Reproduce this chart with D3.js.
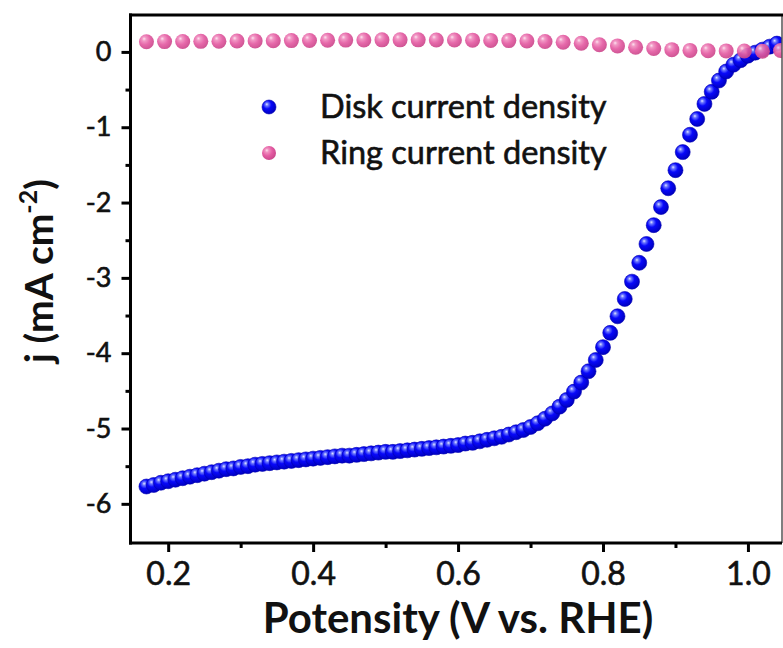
<!DOCTYPE html>
<html>
<head>
<meta charset="utf-8">
<script src="https://cdn.jsdelivr.net/npm/d3@7/dist/d3.min.js"></script>
<style>
  html, body { margin: 0; padding: 0; background: #ffffff; }
  svg { display: block; }
  text { font-family: "Lato", "Open Sans", sans-serif; fill: #111; }
  .heavy { stroke: #111; stroke-width: 0.6px; paint-order: stroke; }
</style>
</head>
<body>
<svg id="chart" width="783" height="648"></svg>
<script>
// RRDE polarisation: disk current density (blue) and ring current density (pink)
const diskPotential = [
  0.17, 0.18, 0.19, 0.20, 0.21, 0.22, 0.23, 0.24, 0.25, 0.26,
  0.27, 0.28, 0.29, 0.30, 0.31, 0.32, 0.33, 0.34, 0.35, 0.36,
  0.37, 0.38, 0.39, 0.40, 0.41, 0.42, 0.43, 0.44, 0.45, 0.46,
  0.47, 0.48, 0.49, 0.50, 0.51, 0.52, 0.53, 0.54, 0.55, 0.56,
  0.57, 0.58, 0.59, 0.60, 0.61, 0.62, 0.63, 0.64, 0.65, 0.66,
  0.67, 0.68, 0.69, 0.70, 0.71, 0.72, 0.73, 0.74, 0.75, 0.76,
  0.77, 0.78, 0.79, 0.80, 0.81, 0.82, 0.83, 0.84, 0.85, 0.86,
  0.87, 0.88, 0.89, 0.90, 0.91, 0.92, 0.93, 0.94, 0.95, 0.96,
  0.97, 0.98, 0.99, 1.00, 1.01, 1.02, 1.03, 1.04
];
const diskCurrent = [
  -5.77, -5.75, -5.72, -5.70, -5.68, -5.66, -5.64, -5.62, -5.60, -5.58,
  -5.56, -5.54, -5.53, -5.51, -5.50, -5.48, -5.47, -5.46, -5.45, -5.44,
  -5.43, -5.42, -5.41, -5.40, -5.39, -5.38, -5.37, -5.36, -5.36, -5.35,
  -5.34, -5.33, -5.32, -5.31, -5.31, -5.30, -5.29, -5.28, -5.27, -5.26,
  -5.25, -5.24, -5.23, -5.22, -5.20, -5.19, -5.17, -5.15, -5.13, -5.11,
  -5.08, -5.05, -5.02, -4.98, -4.93, -4.87, -4.80, -4.71, -4.62, -4.51,
  -4.39, -4.24, -4.09, -3.92, -3.73, -3.51, -3.28, -3.05, -2.80, -2.55,
  -2.30, -2.06, -1.81, -1.57, -1.33, -1.10, -0.89, -0.69, -0.53, -0.38,
  -0.26, -0.17, -0.11, -0.05, -0.01, 0.03, 0.07, 0.11
];

const ringPotential = [
  0.170, 0.195, 0.220, 0.245, 0.270, 0.295, 0.320, 0.345, 0.370, 0.395,
  0.420, 0.445, 0.470, 0.495, 0.520, 0.545, 0.570, 0.595, 0.620, 0.645,
  0.670, 0.695, 0.720, 0.745, 0.770, 0.795, 0.820, 0.845, 0.870, 0.895,
  0.920, 0.945, 0.970, 0.995, 1.020, 1.045
];
const ringCurrent = [
  0.135, 0.137, 0.138, 0.140, 0.142, 0.144, 0.146, 0.148, 0.150, 0.152,
  0.155, 0.157, 0.158, 0.160, 0.160, 0.160, 0.159, 0.158, 0.156, 0.153,
  0.150, 0.145, 0.138, 0.128, 0.115, 0.095, 0.080, 0.062, 0.045, 0.030,
  0.020, 0.015, 0.013, 0.012, 0.008, 0.018
];

const xTickValues = [0.2, 0.4, 0.6, 0.8, 1.0];
const xMinorValues = [0.3, 0.5, 0.7, 0.9];
const yTickValues = [0, -1, -2, -3, -4, -5, -6];
const yMinorValues = [-0.5, -1.5, -2.5, -3.5, -4.5, -5.5];
const seriesNames = ["Disk current density", "Ring current density"];

const svg = d3.select("#chart");
const plotLeft = 130.5, plotRight = 782, plotTop = 15, plotBottom = 543;

const x = d3.scaleLinear().domain([0.148, 1.047]).range([plotLeft, plotRight]);
const y = d3.scaleLinear().domain([-6.52, 0.49]).range([plotBottom, plotTop]);

// sphere-like shading for the markers
const defs = svg.append("defs");
function sphere(id, stops) {
  const g = defs.append("radialGradient").attr("id", id)
    .attr("cx", "40%").attr("cy", "38%").attr("r", "62%")
    .attr("fx", "34%").attr("fy", "30%");
  stops.forEach(([o, c]) => g.append("stop").attr("offset", o).attr("stop-color", c));
}
sphere("ballBlue", [["0%", "#e4e6ff"], ["18%", "#6c78ff"], ["48%", "#0808fa"], ["100%", "#0000c0"]]);
sphere("ballPink", [["0%", "#fde0ee"], ["22%", "#f090c0"], ["58%", "#e45ca3"], ["100%", "#cc488c"]]);

defs.append("clipPath").attr("id", "plotClip")
  .append("rect").attr("x", plotLeft).attr("y", plotTop)
  .attr("width", plotRight - plotLeft).attr("height", plotBottom - plotTop);

// data markers
const plot = svg.append("g").attr("clip-path", "url(#plotClip)");
const R = 7.5;

plot.append("g").selectAll("circle")
  .data(d3.zip(diskPotential, diskCurrent))
  .join("circle")
  .attr("cx", d => x(d[0])).attr("cy", d => y(d[1])).attr("r", R)
  .attr("fill", "url(#ballBlue)")
  .attr("stroke", "#0000b0").attr("stroke-width", 0.6);

plot.append("g").selectAll("circle")
  .data(d3.zip(ringPotential, ringCurrent))
  .join("circle")
  .attr("cx", d => x(d[0])).attr("cy", d => y(d[1])).attr("r", R)
  .attr("fill", "url(#ballPink)")
  .attr("fill-opacity", 0.92);

// frame: heavy top/left/bottom, thin right edge
svg.append("line").attr("x1", plotRight).attr("x2", plotRight).attr("y1", plotTop).attr("y2", plotBottom)
  .attr("stroke", "#555").attr("stroke-width", 1.5);
svg.append("line").attr("x1", plotLeft - 1.5).attr("x2", plotRight + 1).attr("y1", plotTop).attr("y2", plotTop)
  .attr("stroke", "#000").attr("stroke-width", 3);

// axes
const xAxis = svg.append("g").attr("transform", `translate(0,${plotBottom})`)
  .call(d3.axisBottom(x).tickValues(xTickValues).tickFormat(d3.format(".1f"))
    .tickSize(9).tickSizeOuter(0).tickPadding(10));
const xMinor = svg.append("g").attr("transform", `translate(0,${plotBottom})`)
  .call(d3.axisBottom(x).tickValues(xMinorValues).tickFormat("").tickSize(5).tickSizeOuter(0));
const yAxis = svg.append("g").attr("transform", `translate(${plotLeft},0)`)
  .call(d3.axisLeft(y).tickValues(yTickValues).tickFormat(d3.format("d"))
    .tickSize(9).tickSizeOuter(0).tickPadding(10));
const yMinor = svg.append("g").attr("transform", `translate(${plotLeft},0)`)
  .call(d3.axisLeft(y).tickValues(yMinorValues).tickFormat("").tickSize(5).tickSizeOuter(0));

[xAxis, xMinor, yAxis, yMinor].forEach(g => {
  g.select(".domain").remove();
  g.selectAll(".tick line").attr("stroke", "#000").attr("stroke-width", 3);
});
xAxis.selectAll(".tick text").attr("font-size", 32).attr("font-family", "Lato")
  .attr("fill", "#111").attr("class", "heavy");
yAxis.selectAll(".tick text").attr("font-size", 27).attr("font-family", "Lato")
  .attr("fill", "#111").attr("class", "heavy")
  .text(d => d === 0 ? "0" : "-" + Math.abs(d));

svg.append("line").attr("x1", plotLeft).attr("x2", plotLeft).attr("y1", plotTop - 1.5).attr("y2", plotBottom + 1.5)
  .attr("stroke", "#000").attr("stroke-width", 3);
svg.append("line").attr("x1", plotLeft - 1.5).attr("x2", plotRight).attr("y1", plotBottom).attr("y2", plotBottom)
  .attr("stroke", "#000").attr("stroke-width", 3);

// axis titles
svg.append("text").attr("x", 458).attr("y", 633).attr("text-anchor", "middle")
  .attr("font-size", 42).attr("font-weight", "bold").text("Potensity (V vs. RHE)");

const yTitle = svg.append("text").attr("transform", "translate(53,271) rotate(-90)")
  .attr("text-anchor", "middle").attr("font-size", 39).attr("font-weight", "bold");
yTitle.append("tspan").text("j (mA cm");
yTitle.append("tspan").attr("font-size", 25).attr("dy", -16).text("-2");
yTitle.append("tspan").attr("dy", 16).text(")");

// legend
const legendRows = [
  { name: seriesNames[0], fill: "url(#ballBlue)", stroke: "#0000b0", cy: 107 },
  { name: seriesNames[1], fill: "url(#ballPink)", stroke: "none", cy: 153 }
];
const legend = svg.append("g");
legendRows.forEach(r => {
  legend.append("circle").attr("cx", 269).attr("cy", r.cy).attr("r", 7)
    .attr("fill", r.fill).attr("stroke", r.stroke).attr("stroke-width", 0.6);
  legend.append("text").attr("x", 320).attr("y", r.cy + 11)
    .attr("font-size", 32.5).attr("class", "heavy").text(r.name);
});
</script>
</body>
</html>
